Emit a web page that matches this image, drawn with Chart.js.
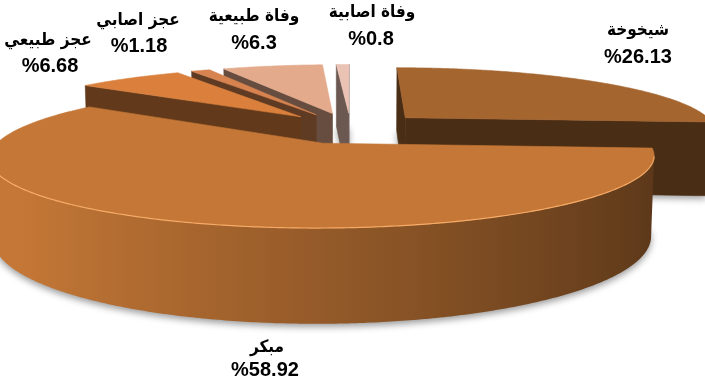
<!DOCTYPE html>
<html><head><meta charset="utf-8">
<script src="https://cdn.jsdelivr.net/npm/chart.js@4.4.0/dist/chart.umd.min.js"></script>
<style>html,body{margin:0;padding:0;background:#fff;overflow:hidden}canvas{display:block}</style>
</head><body>
<canvas id="c" width="705" height="381"></canvas>
<script>
// ---- data ----
const categories = ['شيخوخة', 'مبكر', 'عجز طبيعي', 'عجز اصابي', 'وفاة طبيعية', 'وفاة اصابية'];
const values = [26.13, 58.92, 6.68, 1.18, 6.3, 0.8];
const valueLabels = values.map(v => '%' + v);

// ---- style ----
const topColors = ['#A5652F', '#C47736', '#DA803C', '#D6834F', '#E4AA8C', '#EBC3B4'];
// label layout: [nameX, nameY, valueX, valueY]
const labelPos = [
  [638, 31, 638, 57],
  [267, 348, 265, 370],
  [48, 41, 50, 66],
  [138, 21, 139, 46],
  [254, 17, 254, 43],
  [372, 13, 371, 39]
];
const GEO = {cx: 350.6, cy: 128, f: 312, sin: 0.201, dr: 5.3, depth: 0.248, explode: 0.247};

function hexToRgb(h){const n=parseInt(h.slice(1),16);return [(n>>16)&255,(n>>8)&255,n&255];}
function shade(h,k){return 'rgb('+hexToRgb(h).map(x=>Math.max(0,Math.min(255,Math.round(x*k)))).join(',')+')';}
const sideShade = t => Math.max(0.4, Math.min(1.0, 0.76 - 0.3*Math.sin(t)));

const pie3d = {
  id: 'pie3d',
  beforeDatasetsDraw(chart) {
    const ctx = chart.ctx;
    const meta = chart.getDatasetMeta(0);
    const g = GEO, S = g.sin, C = Math.sqrt(1 - S*S), H = g.depth;
    const camZ = g.dr * C;
    const P = (X, Yh, Z) => {
      const dn = 1 - (Z*C + Yh*S)/g.dr;
      const v = Yh*C - Z*S;
      return [g.cx + g.f*X/dn, g.cy - g.f*v/dn];
    };
    const path = pts => { ctx.beginPath(); pts.forEach((p,k)=> k ? ctx.lineTo(p[0],p[1]) : ctx.moveTo(p[0],p[1])); ctx.closePath(); };
    const poly = (pts, col) => { path(pts); ctx.fillStyle = col; ctx.fill(); ctx.strokeStyle = col; ctx.lineWidth = 0.6; ctx.lineJoin='round'; ctx.stroke(); };

    const slices = meta.data.map((arc, i) => {
      const a = arc.startAngle + Math.PI/2, b = arc.endAngle + Math.PI/2, m = (a + b)/2;
      const ox = g.explode*Math.sin(m), oz = -g.explode*Math.cos(m);
      return {i, a, b, m, ox, oz, key: oz - 0.5*Math.cos(m)};
    });
    const rimPts = (s, Yh, a, b) => {
      a = a === undefined ? s.a : a; b = b === undefined ? s.b : b;
      const n = Math.max(2, Math.ceil((b - a)/0.01));
      const pts = [];
      for (let k = 0; k <= n; k++) { const t = a + (b - a)*k/n; pts.push(P(s.ox + Math.sin(t), Yh, s.oz - Math.cos(t))); }
      return pts;
    };

    // soft shadow under the pie
    ctx.save();
    ctx.shadowColor = 'rgba(0,0,0,0.4)'; ctx.shadowBlur = 7; ctx.shadowOffsetX = 3000; ctx.shadowOffsetY = 3;
    ctx.translate(-3000, 0);
    slices.forEach(s => { path([P(s.ox, -H, s.oz)].concat(rimPts(s, -H))); ctx.fillStyle = '#000'; ctx.fill(); });
    ctx.restore();

    slices.slice().sort((p, q) => p.key - q.key).forEach(s => {
      const base = topColors[s.i];
      const apexT = P(s.ox, 0, s.oz), apexB = P(s.ox, -H, s.oz);
      const rim = (t, Yh) => P(s.ox + Math.sin(t), Yh, s.oz - Math.cos(t));
      // start face
      if (s.ox*Math.cos(s.a) - (camZ - s.oz)*Math.sin(s.a) > 0)
        poly([apexT, rim(s.a, 0), rim(s.a, -H), apexB], shade(base, 0.45));
      // end face
      if (-s.ox*Math.cos(s.b) + (camZ - s.oz)*Math.sin(s.b) > 0)
        poly([apexT, rim(s.b, 0), rim(s.b, -H), apexB], shade(base, 0.45));
      // outer side: find visible angular range
      const n = Math.max(4, Math.ceil((s.b - s.a)/0.004));
      let v0 = null, v1 = null;
      for (let k = 0; k <= n; k++) {
        const t = s.a + (s.b - s.a)*k/n;
        const d = -s.ox*Math.sin(t) - 1 - camZ*Math.cos(t) + s.oz*Math.cos(t);
        if (d > 0) { if (v0 === null) v0 = t; v1 = t; }
      }
      if (v0 !== null && v1 > v0) {
        const topR = rimPts(s, 0, v0, v1), botR = rimPts(s, -H, v0, v1).reverse();
        const xs = topR.map(p => p[0]);
        const xMin = Math.min(...xs), xMax = Math.max(...xs);
        const grad = ctx.createLinearGradient(xMin, 0, xMax + 0.001, 0);
        const m = 24;
        for (let k = 0; k <= m; k++) {
          const t = v0 + (v1 - v0)*k/m;
          const x = rim(t, 0)[0];
          grad.addColorStop(Math.max(0, Math.min(1, (x - xMin)/(xMax - xMin + 0.001))), shade(base, sideShade(t)));
        }
        path(topR.concat(botR));
        ctx.fillStyle = grad; ctx.fill();
        // top face
        poly([apexT].concat(rimPts(s, 0)), base);
        // rim highlight
        ctx.save();
        ctx.strokeStyle = 'rgba(255,180,110,0.85)'; ctx.lineWidth = 1.2;
        ctx.beginPath();
        topR.forEach((p, k) => k ? ctx.lineTo(p[0], p[1]) : ctx.moveTo(p[0], p[1]));
        ctx.stroke();
        ctx.restore();
      } else {
        poly([apexT].concat(rimPts(s, 0)), base);
      }
    });
    return false;
  },
  afterDraw(chart) {
    const ctx = chart.ctx;
    ctx.save();
    ctx.fillStyle = '#000';
    ctx.textAlign = 'center';
    ctx.textBaseline = 'middle';
    categories.forEach((name, i) => {
      const [x1, y1, x2, y2] = labelPos[i];
      ctx.font = 'bold 17px "DejaVu Sans Condensed", "DejaVu Sans"';
      ctx.direction = 'rtl';
      ctx.fillText(name, x1, y1);
      ctx.font = 'bold 20px "Liberation Sans"';
      ctx.direction = 'ltr';
      ctx.fillText(valueLabels[i], x2, y2);
    });
    ctx.restore();
  }
};

new Chart(document.getElementById('c'), {
  type: 'pie',
  data: {labels: categories, datasets: [{data: values, backgroundColor: topColors, borderWidth: 0}]},
  options: {
    responsive: false, animation: false, events: [],
    plugins: {legend: {display: false}, tooltip: {enabled: false}}
  },
  plugins: [pie3d]
});
</script>
</body></html>
